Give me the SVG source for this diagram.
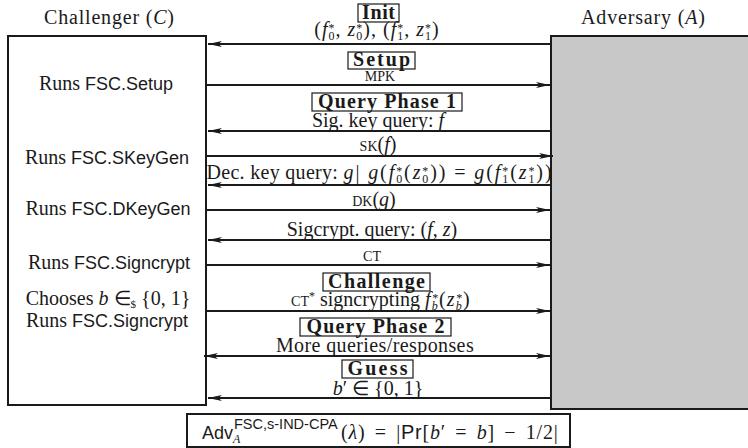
<svg xmlns="http://www.w3.org/2000/svg" width="748" height="448" viewBox="0 0 748 448">
<style>
.s{font-family:"Liberation Serif","Times New Roman",serif;font-size:20px;fill:#1a1a1a}
.ss{font-family:"Liberation Sans",Arial,sans-serif}
.l{font-size:18px}
.i{font-style:italic}
.sc{font-size:14px}
.sp{font-size:12px}
.b{font-family:"Liberation Serif","Times New Roman",serif;font-size:20px;font-weight:bold;fill:#1a1a1a}
.lbl{fill:none;stroke:#1a1a1a;stroke-width:1.2}
.ln{stroke:#1a1a1a;stroke-width:2;fill:none}
</style>
<defs>
<marker id="ah" viewBox="0 0 14 8" refX="14" refY="4" markerWidth="14" markerHeight="8" markerUnits="userSpaceOnUse" orient="auto-start-reverse">
<path d="M0,1 L14,4 L0,7 L3.5,4 z" fill="#1a1a1a"/>
</marker>
</defs>

<g id="challenger">
<rect x="8" y="36" width="198" height="369" fill="#fff" stroke="#1a1a1a" stroke-width="2"/>
<text class="s" x="109" y="24" text-anchor="middle" textLength="130">Challenger (<tspan class="i">C</tspan>)</text>
<text class="s" x="106" y="90" text-anchor="middle">Runs <tspan class="ss l">FSC.Setup</tspan></text>
<text class="s" x="107" y="164" text-anchor="middle">Runs <tspan class="ss l">FSC.SKeyGen</tspan></text>
<text class="s" x="108" y="215" text-anchor="middle">Runs <tspan class="ss l">FSC.DKeyGen</tspan></text>
<text class="s" x="109" y="269" text-anchor="middle">Runs <tspan class="ss l">FSC.Signcrypt</tspan></text>
<text class="s" x="108" y="305" text-anchor="middle" font-size="19">Chooses <tspan class="i">b</tspan> ∈<tspan font-size="11" dy="3">$</tspan><tspan dy="-3"> {0, 1}</tspan></text>
<text class="s" x="107" y="327" text-anchor="middle" font-size="19">Runs <tspan class="ss l">FSC.Signcrypt</tspan></text>
</g>

<g id="adversary">
<rect x="551" y="36" width="200" height="373" fill="#c8c8c8" stroke="#1a1a1a" stroke-width="2"/>
<text class="s" x="643" y="24" text-anchor="middle" textLength="124">Adversary (<tspan class="i">A</tspan>)</text>
</g>

<g id="connectors">
<line class="ln" x1="551" y1="44" x2="208" y2="44" marker-end="url(#ah)"/>
<line class="ln" x1="207" y1="85" x2="550" y2="85" marker-end="url(#ah)"/>
<line class="ln" x1="551" y1="131" x2="208" y2="131" marker-end="url(#ah)"/>
<line class="ln" x1="207" y1="156" x2="553" y2="156" marker-end="url(#ah)"/>
<line class="ln" x1="551" y1="185" x2="208" y2="185" marker-end="url(#ah)"/>
<line class="ln" x1="207" y1="210" x2="550" y2="210" marker-end="url(#ah)"/>
<line class="ln" x1="551" y1="240" x2="208" y2="240" marker-end="url(#ah)"/>
<line class="ln" x1="207" y1="265" x2="550" y2="265" marker-end="url(#ah)"/>
<line class="ln" x1="207" y1="311" x2="550" y2="311" marker-end="url(#ah)"/>
<line class="ln" x1="204" y1="356" x2="550" y2="356" marker-start="url(#ah)" marker-end="url(#ah)"/>
<line class="ln" x1="551" y1="398" x2="208" y2="398" marker-end="url(#ah)"/>
</g>

<g id="init">
<rect class="lbl" x="358" y="4" width="41" height="18"/>
<text class="b" x="378.5" y="18.5" text-anchor="middle" textLength="33">Init</text>
<text class="s" x="377" y="36" text-anchor="middle" letter-spacing="1">(<tspan class="i">f</tspan><tspan class="sp" dy="-4 8" dx="0 -7">*0</tspan><tspan dy="-4">, </tspan><tspan class="i">z</tspan><tspan class="sp" dy="-4 8" dx="0 -7">*0</tspan><tspan dy="-4">), (</tspan><tspan class="i">f</tspan><tspan class="sp" dy="-4 8" dx="0 -7">*1</tspan><tspan dy="-4">, </tspan><tspan class="i">z</tspan><tspan class="sp" dy="-4 8" dx="0 -7">*1</tspan><tspan dy="-4">)</tspan></text>
</g>

<g id="setup">
<rect class="lbl" x="348" y="52" width="67" height="17"/>
<text class="b" x="381.5" y="66" text-anchor="middle" textLength="57">Setup</text>
<text class="s sc" x="380" y="81" text-anchor="middle" font-size="13">MPK</text>
</g>

<g id="query1">
<rect class="lbl" x="312" y="93" width="150" height="18"/>
<text class="b" x="387" y="107.5" text-anchor="middle" textLength="138">Query Phase 1</text>
<text class="s" x="378" y="127" text-anchor="middle">Sig. key query: <tspan class="i">f</tspan></text>
<text class="s" x="378" y="151" text-anchor="middle"><tspan class="sc">SK</tspan>(<tspan class="i">f</tspan>)</text>
<text class="s" x="380" y="179" text-anchor="middle" letter-spacing="0.3">Dec. key query: <tspan letter-spacing="1.9"><tspan class="i">g</tspan>| <tspan class="i">g</tspan>(<tspan class="i">f</tspan><tspan class="sp" dy="-4 8" dx="0 -7.9">*0</tspan><tspan dy="-4">(</tspan><tspan class="i">z</tspan><tspan class="sp" dy="-4 8" dx="0 -7.9">*0</tspan><tspan dy="-4">)) = </tspan><tspan class="i">g</tspan>(<tspan class="i">f</tspan><tspan class="sp" dy="-4 8" dx="0 -7.9">*1</tspan><tspan dy="-4">(</tspan><tspan class="i">z</tspan><tspan class="sp" dy="-4 8" dx="0 -7.9">*1</tspan><tspan dy="-4">))</tspan></tspan></text>
<text class="s" x="374" y="206" text-anchor="middle"><tspan class="sc">DK</tspan>(<tspan class="i">g</tspan>)</text>
<text class="s" x="372" y="236" text-anchor="middle">Sigcrypt. query: (<tspan class="i">f</tspan>, <tspan class="i">z</tspan>)</text>
<text class="s sc" x="372" y="261" text-anchor="middle">CT</text>
</g>

<g id="challenge">
<rect class="lbl" x="323" y="273" width="107" height="18"/>
<text class="b" x="376.5" y="287.5" text-anchor="middle" textLength="97">Challenge</text>
<text class="s" x="381" y="306" text-anchor="middle"><tspan class="sc">CT</tspan><tspan class="sp" dy="-6">*</tspan><tspan dy="6"> signcrypting </tspan><tspan letter-spacing="1.2"><tspan class="i">f</tspan><tspan class="sp i" dy="-4 8" dx="0 -7.2">*b</tspan><tspan dy="-4">(</tspan><tspan class="i">z</tspan><tspan class="sp i" dy="-4 8" dx="0 -7.2">*b</tspan><tspan dy="-4">)</tspan></tspan></text>
</g>

<g id="query2">
<rect class="lbl" x="300" y="318" width="151" height="18"/>
<text class="b" x="375.5" y="332.5" text-anchor="middle" textLength="138">Query Phase 2</text>
<text class="s" x="375" y="352" text-anchor="middle" letter-spacing="0.4">More queries/responses</text>
</g>

<g id="guess">
<rect class="lbl" x="342" y="360" width="71" height="18"/>
<text class="b" x="377.5" y="374.5" text-anchor="middle" textLength="60">Guess</text>
<text class="s" x="378" y="395" text-anchor="middle"><tspan class="i">b</tspan>′ ∈ {0, 1}</text>
</g>

<g id="advantage">
<rect x="187" y="414" width="383" height="33" fill="#fff" stroke="#1a1a1a" stroke-width="2"/>
<text class="s" y="439" letter-spacing="0.8"><tspan class="ss" x="202" font-size="18" letter-spacing="0">Adv</tspan><tspan class="i" font-size="12" x="233" dy="4" letter-spacing="0">A</tspan><tspan class="ss" font-size="14.5" x="234" dy="-14" letter-spacing="0">FSC,s-IND-CPA</tspan><tspan x="341" dy="10">(</tspan><tspan class="i">λ</tspan>)<tspan dx="3.5 0 3.5"> = </tspan>|<tspan class="ss">Pr</tspan>[<tspan class="i">b</tspan>′<tspan dx="3.5 0 3.5"> = </tspan><tspan class="i">b</tspan>]<tspan dx="3.5 0 3.5"> − </tspan>1/2|</text>
</g>
</svg>
